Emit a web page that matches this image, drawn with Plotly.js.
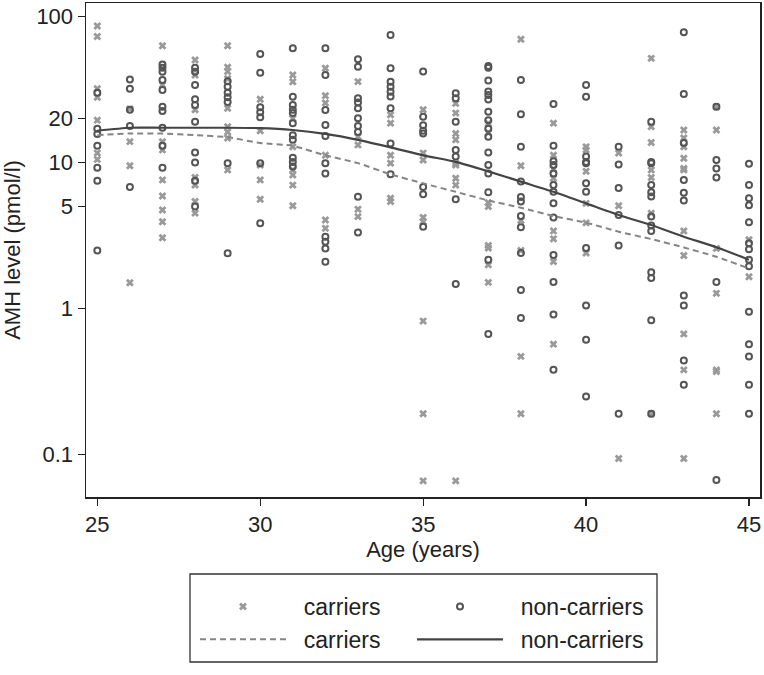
<!DOCTYPE html>
<html><head><meta charset="utf-8">
<script src="https://cdn.plot.ly/plotly-3.0.1.min.js"></script>
<style>html,body{margin:0;padding:0;background:#fff}</style>
</head><body><div id="chart" style="width:764px;height:675px"></div>
<script>
// Ages (years) at which AMH was measured
const ages = [25,26,27,28,29,30,31,32,33,34,35,36,37,38,39,40,41,42,43,44,45];

// AMH (pmol/l) of carriers, one list per age
const carrierAMH = [
  [86,73,32,28,19.5,11.6,10.5],
  [23.3,13.9,9.5,1.5],
  [63,34,13.9,12.2,7.6,5.9,4.73,3.93,3.05],
  [50.4,39.8,23,7.9,7.0,5.4,4.5],
  [63,45,42,37.5,23.5,17.6,16.2,14.7,8.9],
  [27.1,16.5,9.6,7.6,5.6],
  [39.8,35.7,20,12.8,8.9,8.2,7.0,5.06],
  [44.2,28.7,25.6,11.2,4.04,3.54],
  [35.8,15.0,13.2,4.78,4.26],
  [21.2,18.6,11.2,9.9,5.7,5.4],
  [23,11.6,10.4,4.2,3.93,0.82,0.19,0.066],
  [25.4,21.8,15.8,14.3,9.9,9.6,7.8,7.0,0.066],
  [18.5,16,5.3,5.0,2.7,2.6,1.99,1.51],
  [69.8,9.5,4.0,2.5,0.47,0.19],
  [18.6,11.2,9.0,7.8,3.4,3.0,2.1,0.57],
  [12.8,12.2,8.7,5.25,3.86,2.4],
  [11.6,5.06,0.094],
  [51.7,17.6,13.7,8.9,7.9,4.5,0.19],
  [16.7,14.7,12.8,10.7,9.1,8.9,3.4,2.31,0.67,0.38,0.094],
  [24.1,16.7,2.58,1.27,0.38,0.37,0.19],
  [2.96,1.65]
];

// AMH (pmol/l) of non-carriers, one list per age
const nonCarrierAMH = [
  [30,17,15.7,13,9.2,7.5,2.5],
  [37,32,23,17.8,6.8],
  [47,44.6,41.9,36.7,31.4,24.1,22.5,17.3,13,9.2],
  [44.6,41.9,34,27.1,24.8,19,11.7,10,7.5,5.0],
  [36,33,30,28,26,9.87,2.39],
  [55.4,41.2,23.9,22.1,20.4,9.9,3.83],
  [60.5,28.2,24.8,23,21.8,18.6,15.4,14.3,10.8,10.1,9.4],
  [60.5,39.8,22.9,18.1,15.2,9.9,8.4,3.1,2.87,2.58,2.09],
  [50.9,45.3,27.5,25.8,23.5,20.1,17.8,16.2,5.83,3.31],
  [74.7,44.2,35.8,33,30.5,28.3,23.5,13.5,8.3],
  [42,20.6,18,16.5,15.8,6.8,6.06,3.63],
  [29.8,27.5,19,12.2,11,5.6,1.47],
  [45.8,44.6,36.4,30.6,29,27,22.3,19.5,17,15,11.7,9.6,8.4,6.25,2.16,0.67],
  [36.7,21.4,12.8,7.4,5.8,5.4,4.3,3.6,2.4,1.34,0.86],
  [25.2,13,10.2,9.6,8.4,7.0,6.3,5.25,4.2,2.33,1.52,0.91,0.38],
  [34,28.2,11,10.1,9.9,7.2,6.3,2.6,1.05,0.61,0.25],
  [12.8,9.7,6.7,4.37,2.7,0.19],
  [19,10.1,9.9,7.0,6.25,5.85,4.26,3.7,3.4,1.77,1.62,0.83,0.19],
  [78,29.5,13.6,7.6,6.2,5.5,1.23,1.05,0.44,0.30],
  [24.1,10.4,9.1,7.9,1.52,0.067],
  [9.8,7.0,5.7,5.1,3.9,2.8,2.55,2.16,1.95,0.95,0.57,0.47,0.30,0.19]
];

// Smoothed curves (pmol/l) at each age
const carrierFit =    [15.4,15.8,15.8,15.4,14.9,13.6,13.0,11.2,9.9,8.3,7.2,6.3,5.5,4.9,4.3,3.87,3.36,2.99,2.62,2.26,1.88];
const nonCarrierFit = [16.5,17.3,17.3,17.3,17.3,17.2,16.7,15.7,14.3,12.7,11.2,10.1,8.7,7.4,6.3,5.25,4.37,3.73,3.1,2.63,2.16];

const xTicks = [25,30,35,40,45];
const yTicks = [0.1,1,5,10,20,100];
const yTickText = ['0.1','1','5','10','20','100'];

function flatten(groups){
  const x=[], y=[];
  groups.forEach((g,i)=>g.forEach(v=>{x.push(ages[i]); y.push(v);}));
  return {x,y};
}
const c = flatten(carrierAMH);
const n = flatten(nonCarrierAMH);
const FONT = 'Liberation Sans, Arial, Helvetica, sans-serif';
const pad = '\u00a0\u00a0';

const traces = [
  {x:c.x, y:c.y, type:'scatter', mode:'markers', name:pad+'carriers', legend:'legend',
   marker:{symbol:'x', size:7, color:'#9a9a9a', line:{width:0}}},
  {x:n.x, y:n.y, type:'scatter', mode:'markers', name:pad+'non-carriers', legend:'legend2',
   marker:{symbol:'circle-open', size:6, color:'#555555', line:{width:2, color:'#555555'}}},
  {x:ages, y:carrierFit, type:'scatter', mode:'lines', name:pad+'carriers', legend:'legend',
   line:{color:'#858585', width:2, dash:'6px,4px', shape:'spline', smoothing:0.6}},
  {x:ages, y:nonCarrierFit, type:'scatter', mode:'lines', name:pad+'non-carriers', legend:'legend2',
   line:{color:'#444444', width:2.2, shape:'spline', smoothing:0.6}}
];

const lx = v => (v-86)/674;
const ly = v => (497-v)/494;

const layout = {
  width:764, height:675,
  margin:{l:86, r:4, t:3, b:178},
  paper_bgcolor:'#fff', plot_bgcolor:'#fff',
  font:{family:FONT, size:22, color:'#222'},
  showlegend:true,
  xaxis:{range:[24.653,45.338], tickvals:xTicks, ticks:'outside', ticklen:7, tickwidth:1.3, tickcolor:'#222',
         showline:true, linecolor:'#222', linewidth:1.5, mirror:true, showgrid:false, zeroline:false,
         tickfont:{size:22}, title:{text:'Age (years)', font:{size:22}, standoff:4}},
  yaxis:{type:'log', range:[-1.291,2.0925], tickvals:yTicks, ticktext:yTickText, ticks:'outside', ticklen:7,
         tickwidth:1.3, tickcolor:'#222', showline:true, linecolor:'#222', linewidth:1.5, mirror:true,
         showgrid:false, zeroline:false, tickfont:{size:22},
         title:{text:'AMH level (pmol/l)', font:{size:22}, standoff:14}},
  legend:{x:lx(195), y:ly(585), xanchor:'left', yanchor:'top', orientation:'v', itemwidth:86,
          bgcolor:'rgba(0,0,0,0)', borderwidth:0, font:{size:23, color:'#222'}, tracegroupgap:0},
  legend2:{x:lx(412), y:ly(585), xanchor:'left', yanchor:'top', orientation:'v', itemwidth:86,
          bgcolor:'rgba(0,0,0,0)', borderwidth:0, font:{size:23, color:'#222'}, tracegroupgap:0},
  shapes:[{type:'rect', xref:'paper', yref:'paper', x0:lx(190), x1:lx(657), y0:ly(574), y1:ly(662),
           line:{color:'#333', width:1.3}, fillcolor:'rgba(0,0,0,0)'}]
};

Plotly.newPlot('chart', traces, layout, {displayModeBar:false, staticPlot:true});
</script>
</body></html>
